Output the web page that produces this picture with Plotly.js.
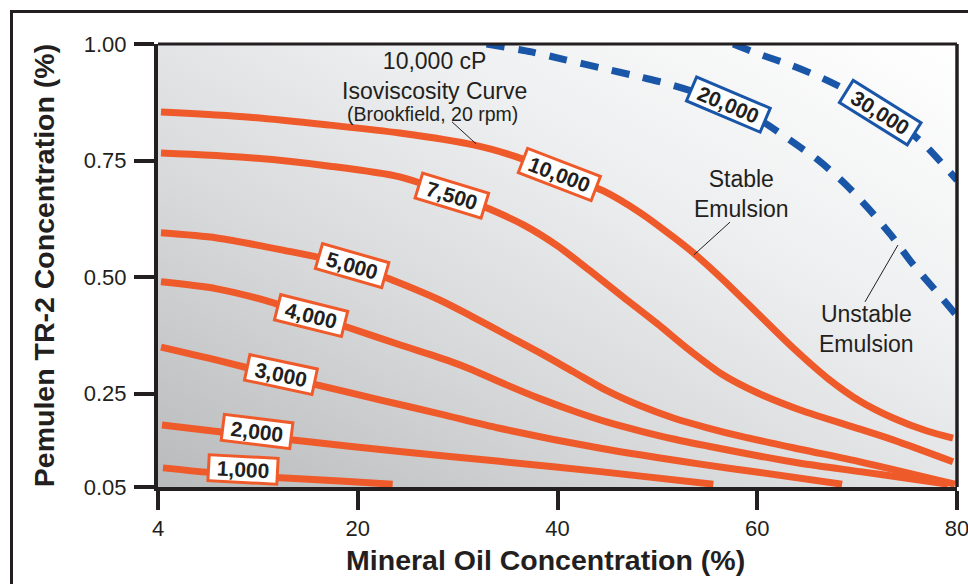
<!DOCTYPE html>
<html><head><meta charset="utf-8">
<script src="https://cdn.plot.ly/plotly-3.0.1.min.js"></script>
<style>
html,body{margin:0;padding:0;background:#fff;overflow:hidden;width:968px;height:584px;}
#frame{position:absolute;left:10px;top:10px;width:1000px;height:700px;border:3px solid #231f20;box-sizing:border-box;}
#grad{position:absolute;left:158px;top:44px;width:799px;height:443px;background:linear-gradient(to top right,#b9babc 0%,#d8d9db 35%,#eeeff0 65%,#ffffff 100%);}
#chart{position:absolute;left:0;top:0;width:968px;height:584px;}
</style></head><body>
<div id="frame"></div><div id="grad"></div><div id="chart"></div>
<script>
// ---- data (x in axis units: left edge labelled "4") ----
const curveNames = ["1,000","2,000","3,000","4,000","5,000","7,500","10,000","20,000","30,000"];

const x1000 = [0.5, 5.2, 12.2, 18.2, 23.5];
const y1000 = [0.091, 0.081, 0.070, 0.063, 0.056];

const x2000 = [0.4, 7.2, 14.2, 24.2, 34.2, 44.3, 55.6];
const y2000 = [0.183, 0.166, 0.149, 0.126, 0.105, 0.083, 0.056];

const x3000 = [0.3, 5.9, 12.2, 15.9, 22.2, 28.2, 34.2, 44.3, 54.3, 60.3, 68.5];
const y3000 = [0.350, 0.322, 0.288, 0.269, 0.237, 0.207, 0.176, 0.133, 0.099, 0.081, 0.056];

const x4000 = [0.3, 5.9, 10.9, 15.2, 19.2, 24.2, 29.2, 31.5, 34.9, 38.3, 41.6, 45.0, 48.3, 51.6, 55.0, 60.3, 64.3, 70.3, 74.3, 79.1];
const y4000 = [0.490, 0.475, 0.449, 0.419, 0.391, 0.355, 0.320, 0.301, 0.269, 0.239, 0.213, 0.189, 0.170, 0.153, 0.138, 0.116, 0.101, 0.083, 0.071, 0.056];

const x5000 = [0.3, 5.9, 12.5, 19.4, 23.2, 28.2, 31.5, 34.9, 38.3, 41.6, 45.0, 48.3, 51.6, 55.0, 58.3, 64.3, 70.3, 79.8];
const y5000 = [0.595, 0.584, 0.558, 0.526, 0.496, 0.451, 0.415, 0.376, 0.337, 0.297, 0.256, 0.224, 0.198, 0.177, 0.159, 0.131, 0.104, 0.056];

const x7500 = [0.3, 9.2, 17.2, 24.2, 29.4, 33.2, 36.6, 40.0, 43.3, 46.6, 50.0, 53.3, 56.6, 60.0, 64.3, 70.3, 73.6, 79.6];
const y7500 = [0.766, 0.756, 0.738, 0.715, 0.678, 0.646, 0.612, 0.567, 0.513, 0.457, 0.400, 0.342, 0.290, 0.252, 0.215, 0.174, 0.151, 0.104];

const x10000 = [0.3, 9.2, 17.2, 24.2, 31.7, 35.9, 40.2, 44.6, 48.3, 51.6, 53.6, 56.6, 60.0, 63.6, 67.0, 70.3, 73.6, 77.0, 79.6];
const y10000 = [0.854, 0.843, 0.826, 0.809, 0.783, 0.758, 0.723, 0.685, 0.638, 0.586, 0.552, 0.494, 0.423, 0.348, 0.284, 0.234, 0.198, 0.170, 0.155];

const x20000 = [32.9, 37.4, 40.8, 44.3, 48.3, 50.8, 54.3, 57.1, 60.3, 63.4, 66.1, 68.7, 71.1, 73.4, 75.5, 77.7, 80.0];
const y20000 = [1.000, 0.983, 0.966, 0.949, 0.929, 0.916, 0.893, 0.871, 0.837, 0.792, 0.751, 0.702, 0.648, 0.590, 0.530, 0.475, 0.417];

const x30000 = [57.6, 60.1, 63.3, 66.5, 69.3, 72.3, 74.8, 76.8, 80.0];
const y30000 = [1.000, 0.979, 0.955, 0.927, 0.897, 0.858, 0.820, 0.783, 0.708];

// label anchor points (data units) and rotation
const labelX = [8.5, 9.9, 12.3, 15.3, 19.4, 29.4, 40.2, 57.1, 72.3];
const labelY = [0.0865, 0.168, 0.292, 0.417, 0.524, 0.676, 0.721, 0.871, 0.854];
const labelAngle = [3, 7, 12, 14, 16, 17, 21, 23, 32];

const xTickVals = [0, 20, 40, 60, 80];
const xTickText = ["4", "20", "40", "60", "80"];
const yTickVals = [0.05, 0.25, 0.50, 0.75, 1.00];

// ---- styling ----
const FONT = "Liberation Sans, Arial, Helvetica, sans-serif";
const INK = "#231f20";
const ORANGE = "#ef5a2b";
const BLUE = "#1a56a8";

const xs = [x1000, x2000, x3000, x4000, x5000, x7500, x10000, x20000, x30000];
const ys = [y1000, y2000, y3000, y4000, y5000, y7500, y10000, y20000, y30000];

const traces = xs.map((x, i) => {
  const blue = i >= 7;
  return {
    type: "scatter", mode: "lines", x: x, y: ys[i], name: curveNames[i],
    line: {color: blue ? BLUE : ORANGE, width: 7, shape: "spline", smoothing: 0.8,
           dash: blue ? "18px,14px" : "solid"},
    hoverinfo: "skip", cliponaxis: true
  };
});

const annotations = curveNames.map((t, i) => {
  const blue = i >= 7;
  return {
    x: labelX[i], y: labelY[i], xref: "x", yref: "y", showarrow: false,
    text: "<b>" + t + "</b>", textangle: labelAngle[i],
    bgcolor: "#ffffff", bordercolor: blue ? BLUE : ORANGE, borderwidth: 3, borderpad: 0,
    width: t.length > 5 ? (blue ? 77 : 75) : 66, height: 23,
    font: {family: FONT, size: 21, color: INK}, align: "center", valign: "middle"
  };
});

const notes = [
  {x: 27.7, y: 0.932, text: "10,000 cP<br>Isoviscosity Curve", size: 23},
  {x: 27.5, y: 0.850, text: "(Brookfield, 20 rpm)", size: 19.5},
  {x: 58.4, y: 0.679, text: "Stable<br>Emulsion", size: 23},
  {x: 70.9, y: 0.388, text: "Unstable<br>Emulsion", size: 23}
];
notes.forEach(n => annotations.push({
  x: n.x, y: n.y, xref: "x", yref: "y", showarrow: false, text: n.text, align: "center",
  font: {family: FONT, size: n.size, color: INK}, xanchor: "center", yanchor: "middle"
}));

const pointer = (x0, y0, x1, y1) => ({type: "line", xref: "x", yref: "y", x0, y0, x1, y1,
  line: {color: INK, width: 1}, layer: "above"});

const shapes = [
  pointer(29.44, 0.833, 31.84, 0.786),
  pointer(57.27, 0.618, 53.67, 0.548),
  pointer(70.79, 0.447, 74.09, 0.569),
  {type: "line", xref: "paper", yref: "paper", x0: 0, x1: 1, y0: 1, y1: 1, line: {color: INK, width: 3}},
  {type: "line", xref: "paper", yref: "paper", x0: 1, x1: 1, y0: 0, y1: 1, line: {color: INK, width: 3.5}}
];

const axisCommon = {
  showgrid: false, zeroline: false, showline: true, linewidth: 4, linecolor: INK,
  ticks: "outside", tickwidth: 4, tickcolor: INK, ticklabeloverflow: "allow",
  tickfont: {family: FONT, size: 22, color: INK}
};

const NB = "\u00A0";
const layout = {
  width: 968, height: 584,
  margin: {l: 158, r: 11, t: 44, b: 97, pad: 0},
  paper_bgcolor: "rgba(0,0,0,0)", plot_bgcolor: "rgba(0,0,0,0)",
  showlegend: false,
  xaxis: Object.assign({}, axisCommon, {
    range: [0, 80], tickmode: "array", tickvals: xTickVals, ticktext: xTickText, ticklen: 19,
    title: {text: "<b>Mineral Oil Concentration (%)" + NB + NB + NB + "</b>", font: {family: FONT, size: 28.5, color: INK}, standoff: 11}
  }),
  yaxis: Object.assign({}, axisCommon, {
    range: [0.05, 1.0], tickmode: "array", tickvals: yTickVals, tickformat: ".2f", ticklen: 20,
    ticklabelstandoff: 3,
    title: {text: "<b>Pemulen TR-2 Concentration (%)</b>", font: {family: FONT, size: 28.5, color: INK}, standoff: 22}
  }),
  annotations: annotations,
  shapes: shapes
};

Plotly.newPlot("chart", traces, layout, {staticPlot: true, displayModeBar: false});
</script></body></html>
